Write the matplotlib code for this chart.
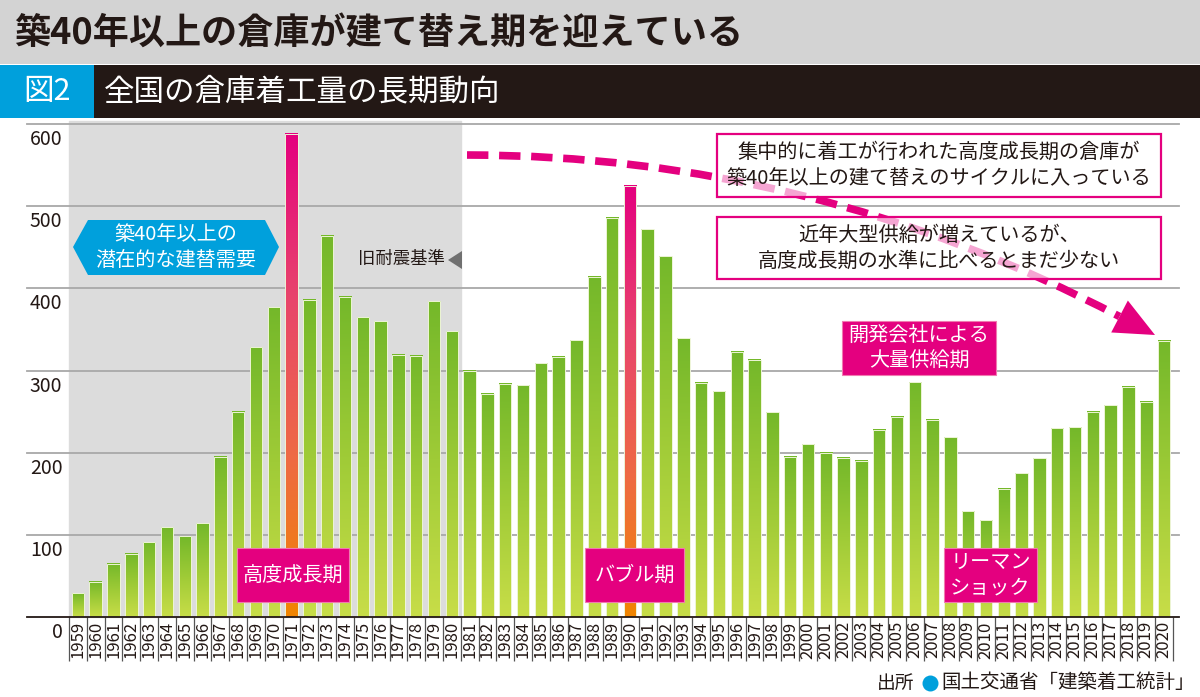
import numpy as np
import matplotlib
matplotlib.use("Agg")
import matplotlib.pyplot as plt
import matplotlib.transforms as mtransforms
from matplotlib.patches import Rectangle, Polygon, PathPatch
from matplotlib.lines import Line2D
from matplotlib.path import Path
from matplotlib.colors import LinearSegmentedColormap

plt.rcParams['font.family'] = ['Noto Sans CJK JP', 'DejaVu Sans']

# 倉庫着工量
years = list(range(1959, 2021))
values = [29, 43, 65, 77, 91, 109, 98, 114, 195, 250,
          328, 377, 588, 386, 464, 390, 365, 360, 319, 318,
          384, 348, 300, 272, 284, 282, 309, 317, 337, 414,
          486, 525, 472, 439, 339, 285, 275, 323, 313, 249,
          195, 210, 200, 194, 190, 228, 244, 286, 240, 219,
          129, 118, 156, 175, 193, 230, 231, 250, 258, 280,
          262, 336]
highlight_years = [1971, 1990]
old_standard_last = 1980
yticks = [0, 100, 200, 300, 400, 500, 600]

MAGENTA = "#e4007f"
BLUE = "#00a0dc"
DARK = "#231815"

W, H = 1200, 697
fig = plt.figure(figsize=(W / 100, H / 100), dpi=100)


def fx(x):
    return x / W


def fy(y):
    return 1 - y / H


def rect_px(x0, y0, x1, y1, **kw):
    return Rectangle((fx(x0), fy(y1)), (x1 - x0) / W, (y1 - y0) / H,
                     transform=fig.transFigure, **kw)


# header
fig.add_artist(rect_px(0, 0, W, 64, facecolor="#d3d3d3", edgecolor="none"))
fig.text(fx(14), fy(33), "築40年以上の倉庫が建て替え期を迎えている",
         fontsize=26, fontweight="bold", color=DARK, va="center", ha="left")
fig.add_artist(rect_px(0, 65, 94, 118, facecolor=BLUE, edgecolor="none"))
fig.add_artist(rect_px(94, 65, W, 118, facecolor=DARK, edgecolor="none"))
fig.text(fx(47), fy(92), "図2", fontsize=22, color="white", va="center", ha="center")
fig.text(fx(104), fy(92), "全国の倉庫着工量の長期動向", fontsize=22, color="white",
         va="center", ha="left")

# main axes
ax = fig.add_axes([fx(69), fy(617), 1104 / W, 493 / H])
ax.set_xlim(-0.5, len(years) - 0.5)
ax.set_ylim(0, 600)
ax.patch.set_alpha(0)
for s in ax.spines.values():
    s.set_visible(False)

x = np.arange(len(years))
old_idx = years.index(old_standard_last)
ax.axvspan(-0.5, old_idx + 0.5, ymin=0, ymax=1.006, color="#dcdcdc",
           zorder=0, clip_on=False)

for v in yticks[1:]:
    ax.axhline(v, xmin=-0.038, xmax=1.005, color="#a8a8a8", lw=1.3,
               zorder=1, clip_on=False)
ax.axhline(0, xmin=-0.038, xmax=1.005, color=DARK, lw=1.3, zorder=6,
           clip_on=False)

ylab_tr = mtransforms.offset_copy(
    mtransforms.blended_transform_factory(ax.transAxes, ax.transData),
    fig=fig, y=-5, units="dots")
for v in yticks:
    ax.text(-0.006, v, str(v), transform=ylab_tr, ha="right", va="top",
            fontsize=14, color=DARK)

green_cmap = LinearSegmentedColormap.from_list("g", ["#c8dd48", "#9fcb37", "#74b82a"])
pink_cmap = LinearSegmentedColormap.from_list(
    "p", ["#f18500", "#ee6a45", "#e8446c", "#e4007f"])
grad = np.linspace(0, 1, 256).reshape(-1, 1)

bars = ax.bar(x, values, width=0.7, facecolor="none", edgecolor="#eef5d8",
              lw=0.7, zorder=4)
for yr, b in zip(years, bars):
    cm = pink_cmap if yr in highlight_years else green_cmap
    ax.imshow(grad, cmap=cm, origin="lower", aspect="auto", zorder=3,
              extent=(b.get_x(), b.get_x() + b.get_width(), 0, b.get_height()))
ax.set_xlim(-0.5, len(years) - 0.5)
ax.set_ylim(0, 600)

ax.set_yticks([])
ax.set_xticks(x)
ax.set_xticklabels([str(y) for y in years], rotation=90, fontsize=12, color=DARK)
ax.set_xticks(np.arange(-0.5, len(years), 1), minor=True)
ax.tick_params(axis="x", which="major", length=0, pad=3)
ax.tick_params(axis="x", which="minor", length=32, width=0.9, color="#555555")

# dashed trend arrow
p0, c, tip = np.array([467, 155]), np.array([810, 155]), np.array([1155, 335])
d = tip - c
d = d / np.hypot(*d)
perp = np.array([-d[1], d[0]])
base = tip - 40 * d
curve = Path([(fx(p0[0]), fy(p0[1])), (fx(c[0]), fy(c[1])), (fx(base[0]), fy(base[1]))],
             [Path.MOVETO, Path.CURVE3, Path.CURVE3])
fig.add_artist(PathPatch(curve, fill=False, edgecolor=MAGENTA, lw=5.5,
                         linestyle=(0, (2.8, 1.4)), capstyle="butt",
                         transform=fig.transFigure, zorder=6))
head = [tip, base + 18 * perp, base - 18 * perp]
fig.add_artist(Polygon([(fx(p[0]), fy(p[1])) for p in head], closed=True,
                       facecolor=MAGENTA, edgecolor="none",
                       transform=fig.transFigure, zorder=6))

# comment boxes
for (y0, y1, lines) in [
        (134, 197, ["集中的に着工が行われた高度成長期の倉庫が",
                    "築40年以上の建て替えのサイクルに入っている"]),
        (217, 279, ["近年大型供給が増えているが、",
                    "高度成長期の水準に比べるとまだ少ない"])]:
    fig.add_artist(rect_px(717, y0, 1161, y1, facecolor=(1, 1, 1, 0.65),
                           edgecolor=MAGENTA, lw=1.6, zorder=7))
    mid = (y0 + y1) / 2
    for k, t in enumerate(lines):
        fig.text(fx(939), fy(mid - 13 + 26 * k), t, fontsize=14.5, color=DARK,
                 ha="center", va="center", zorder=8)

# blue hexagon label
hexa = [(73, 247), (88, 220), (265, 220), (279, 247), (265, 275), (88, 275)]
fig.add_artist(Polygon([(fx(a), fy(b)) for a, b in hexa], closed=True,
                       facecolor=BLUE, edgecolor="none",
                       transform=fig.transFigure, zorder=7))
fig.text(fx(176), fy(234), "築40年以上の", fontsize=14.5, color="white",
         ha="center", va="center", zorder=8)
fig.text(fx(176), fy(260), "潜在的な建替需要", fontsize=14.5, color="white",
         ha="center", va="center", zorder=8)

# 旧耐震基準
fig.text(fx(445), fy(259), "旧耐震基準", fontsize=12.5, color=DARK,
         ha="right", va="center", zorder=8)
tri = [(448, 260), (462, 251), (462, 269)]
fig.add_artist(Polygon([(fx(a), fy(b)) for a, b in tri], closed=True,
                       facecolor="#707070", edgecolor="none",
                       transform=fig.transFigure, zorder=7))

# magenta period labels
for (x0, y0, x1, y1, lines) in [
        (842, 321, 996, 375, ["開発会社による", "大量供給期"]),
        (237, 548, 349, 602, ["高度成長期"]),
        (585, 548, 684, 602, ["バブル期"]),
        (944, 548, 1037, 602, ["リーマン", "ショック"])]:
    fig.add_artist(rect_px(x0, y0, x1, y1, facecolor=MAGENTA,
                           edgecolor="#f07ab0", lw=0.8, zorder=7))
    mid = (y0 + y1) / 2
    n = len(lines)
    for k, t in enumerate(lines):
        fig.text(fx((x0 + x1) / 2), fy(mid + (k - (n - 1) / 2) * 26), t,
                 fontsize=14.5, color="white", ha="center", va="center",
                 zorder=8)

# source
fig.text(fx(877), fy(683), "出所", fontsize=13.5, color=DARK, ha="left", va="center")
fig.add_artist(Line2D([fx(930)], [fy(683)], marker="o", markersize=11.5,
                      markerfacecolor=BLUE, markeredgecolor="none",
                      transform=fig.transFigure))
fig.text(fx(941), fy(683), "国土交通省「建築着工統計」", fontsize=14, color=DARK,
         ha="left", va="center")

fig.savefig("out.png", dpi=100)
